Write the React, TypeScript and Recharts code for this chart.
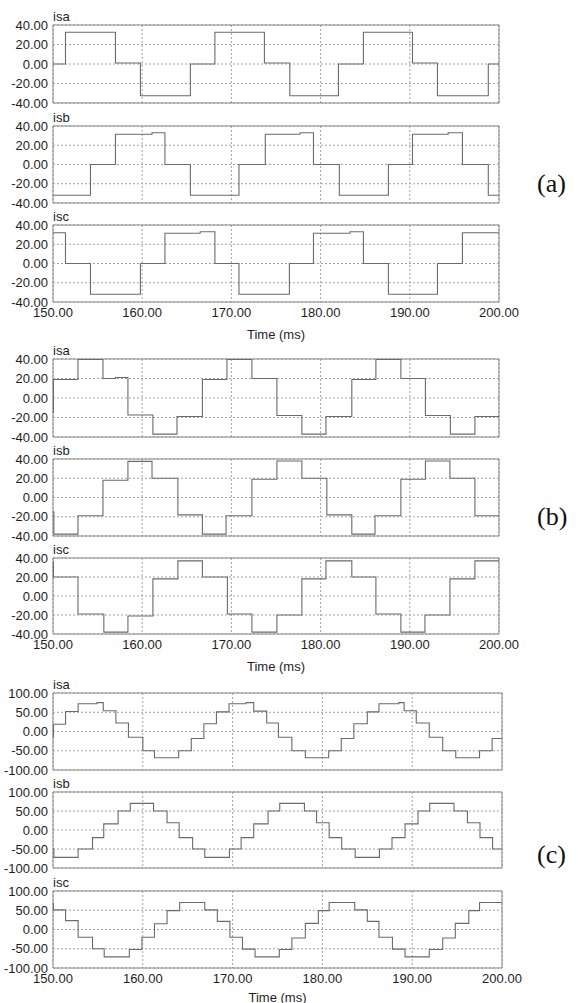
import React from 'react';
import {
  LineChart,
  Line,
  XAxis,
  YAxis,
  CartesianGrid,
  ReferenceArea,
} from 'recharts';

// time axis (ms)
const timeTicks = [150, 160, 170, 180, 190, 200];
const ampTicks40 = [-40, -20, 0, 20, 40];
const ampTicks100 = [-100, -50, 0, 50, 100];

// (a) phase currents, [time ms, current A] breakpoints
const aIsa = [
  [150, 0], [151.4, 32.5], [157.0, 1], [159.8, -32.5], [165.4, 0], [168.15, 32.5],
  [173.7, 1], [176.55, -32.5], [182.0, 0], [184.8, 32.5], [190.3, 1], [193.1, -32.5],
  [198.8, 0], [200, 0],
];
const aIsb = [
  [150, -32], [154.2, 0], [157.0, 31.5], [161.1, 33], [162.55, 0], [165.4, -32],
  [170.85, 0], [173.8, 31.5], [177.7, 33], [179.2, 0], [182.1, -32], [187.6, 0],
  [190.3, 31.5], [194.3, 33], [195.9, 0], [198.8, -32], [200, -32],
];
const aIsc = [
  [150, 32], [151.4, 0], [154.2, -32], [159.8, 0], [162.55, 31.5], [166.5, 33],
  [168.15, 0], [170.85, -32], [176.5, 0], [179.2, 31.5], [183.3, 33], [184.8, 0],
  [187.6, -32], [193.1, 0], [195.9, 32], [200, 32],
];

// (b)
const bIsa = [
  [150, -15], [150.05, 19], [152.8, 39.5], [155.6, 20], [157.0, 21], [158.4, -17.5],
  [161.2, -37], [163.9, -19], [166.75, 19], [169.5, 39.5], [172.3, 20], [175.1, -18],
  [177.9, -37], [180.6, -19], [183.5, 19], [186.2, 39.5], [189.0, 20], [191.75, -18],
  [194.55, -37], [197.3, -19], [200, -19],
];
const bIsb = [
  [150, -15], [150.1, -38], [152.8, -19], [155.6, 18], [158.4, 37.5], [161.1, 20],
  [164.0, -18], [166.75, -38], [169.4, -19], [172.3, 19], [175.1, 38], [177.9, 20],
  [180.7, -18], [183.5, -38], [186.1, -19], [189.0, 19], [191.75, 38], [194.5, 20],
  [197.3, -19], [200, -19],
];
const bIsc = [
  [150, 36], [150.05, 20], [152.8, -19], [155.7, -38], [158.4, -21], [161.2, 18],
  [164.0, 37], [166.75, 20], [169.55, -19], [172.3, -38], [175.1, -20], [177.9, 18],
  [180.6, 37], [183.5, 20], [186.2, -19], [189.0, -38], [191.7, -20], [194.5, 18],
  [197.3, 37], [200, 37],
];

// (c)
const cIsa = [
  [150, -14], [150.05, 19], [151.4, 52], [152.8, 72], [154.9, 75], [155.6, 54],
  [157.0, 22], [158.4, -15], [160.0, -50], [161.3, -68], [164.0, -50], [165.4, -18],
  [166.8, 20], [168.2, 51], [169.6, 72], [171.5, 75], [172.35, 53], [173.8, 22],
  [175.1, -15], [176.6, -50], [178.1, -68], [180.7, -50], [182.1, -18], [183.5, 20],
  [185.0, 51], [186.3, 72], [188.5, 75], [189.1, 54], [190.45, 22], [191.9, -15],
  [193.4, -50], [194.85, -68], [197.5, -50], [198.9, -18], [200, -18],
];
const cIsb = [
  [150, -50], [150.1, -72], [152.8, -50], [154.4, -20], [155.65, 16], [157.25, 50],
  [158.6, 70], [161.2, 50], [162.7, 19], [164.05, -20], [165.55, -50], [166.9, -72],
  [169.65, -50], [170.95, -20], [172.35, 16], [173.95, 50], [175.25, 70], [178.0, 50],
  [179.35, 19], [180.75, -20], [182.15, -50], [183.65, -72], [186.35, -50], [187.75, -20],
  [189.2, 16], [190.65, 50], [191.95, 70], [194.65, 50], [196.15, 19], [197.55, -20],
  [198.95, -50], [200, -50],
];
const cIsc = [
  [150, 68], [150.05, 51], [151.4, 23], [152.8, -20], [154.4, -50], [155.7, -71],
  [158.5, -52], [159.9, -20], [161.3, 15], [162.7, 49], [164.1, 70], [166.9, 51],
  [168.3, 21], [169.7, -20], [171.1, -51], [172.5, -71], [175.2, -52], [176.6, -22],
  [178.1, 16], [179.55, 49], [180.75, 70], [183.6, 51], [185.0, 21], [186.3, -20],
  [187.8, -51], [189.2, -71], [191.9, -52], [193.4, -22], [194.8, 16], [196.3, 49],
  [197.5, 70], [200, 70],
];

const toPoints = (pairs: number[][]) => pairs.map(([t, v]) => ({ t, v }));
const fmt = (v: number) => v.toFixed(2);

const TRACE = '#6b6b6b';
const FRAME = '#8a8a8a';
const GRID = '#a3a3a3';
const TEXT = '#1e1e1e';
const Y_W = 53;
const M_TOP = 10;

interface PanelProps {
  title: string;
  series: number[][];
  top: number;
  plotH: number;
  plotW: number;
  yTicks: number[];
  showTime?: boolean;
  timeLift?: number;
}

const Panel: React.FC<PanelProps> = ({ title, series, top, plotH, plotW, yTicks, showTime, timeLift = 0 }) => {
  const xH = showTime ? 37 : 0;
  const mBottom = showTime ? 6 : 8;
  const yMin = yTicks[0];
  const yMax = yTicks[yTicks.length - 1];
  return (
    <div style={{ position: 'absolute', left: 0, top: top - M_TOP }}>
      <div
        style={{
          position: 'absolute',
          left: Y_W,
          top: M_TOP - 15,
          fontSize: 13,
          lineHeight: '13px',
          color: TEXT,
        }}
      >
        {title}
      </div>
      <LineChart
        width={Y_W + plotW + 30}
        height={M_TOP + plotH + mBottom + xH}
        data={toPoints(series)}
        margin={{ top: M_TOP, right: 30, left: 0, bottom: mBottom }}
      >
        <CartesianGrid stroke={GRID} strokeDasharray="2 2" />
        <XAxis
          dataKey="t"
          type="number"
          domain={[150, 200]}
          ticks={timeTicks}
          hide={!showTime}
          height={xH}
          axisLine={false}
          tickLine={false}
          tickSize={4}
          tickMargin={2}
          tickFormatter={fmt}
          tick={{ fill: TEXT, fontSize: 13 }}
          interval={0}
          label={
            showTime
              ? { value: 'Time (ms)', position: 'insideBottom', offset: timeLift, fill: TEXT, fontSize: 13 }
              : undefined
          }
        />
        <YAxis
          type="number"
          domain={[yMin, yMax]}
          ticks={yTicks}
          width={Y_W}
          axisLine={false}
          tickLine={false}
          tickSize={3}
          tickMargin={2}
          tickFormatter={fmt}
          tick={{ fill: TEXT, fontSize: 13 }}
          interval={0}
        />
        <ReferenceArea x1={150} x2={200} y1={yMin} y2={yMax} fill="none" stroke={FRAME} strokeWidth={1} />
        <Line
          type="stepAfter"
          dataKey="v"
          stroke={TRACE}
          strokeWidth={1.1}
          dot={false}
          isAnimationActive={false}
        />
      </LineChart>
    </div>
  );
};

const caseLabel: React.CSSProperties = {
  position: 'absolute',
  left: 537,
  fontFamily: '"Liberation Serif", "Times New Roman", serif',
  fontSize: 26,
  lineHeight: '26px',
  color: '#111',
};

export default function App() {
  return (
    <div
      style={{
        position: 'absolute',
        left: 0,
        top: 0,
        width: 578,
        height: 1003,
        background: '#fff',
        overflow: 'hidden',
        fontFamily: '"Liberation Sans", Arial, sans-serif',
      }}
    >
      <Panel title="isa" series={aIsa} top={25} plotH={78} plotW={446} yTicks={ampTicks40} />
      <Panel title="isb" series={aIsb} top={126} plotH={77} plotW={446} yTicks={ampTicks40} />
      <Panel title="isc" series={aIsc} top={225} plotH={77} plotW={446} yTicks={ampTicks40} showTime />
      <div style={{ ...caseLabel, top: 171 }}>(a)</div>

      <Panel title="isa" series={bIsa} top={359} plotH={78} plotW={446} yTicks={ampTicks40} />
      <Panel title="isb" series={bIsb} top={459} plotH={77} plotW={446} yTicks={ampTicks40} />
      <Panel title="isc" series={bIsc} top={558} plotH={76} plotW={446} yTicks={ampTicks40} showTime />
      <div style={{ ...caseLabel, top: 504 }}>(b)</div>

      <Panel title="isa" series={cIsa} top={693} plotH={77} plotW={449} yTicks={ampTicks100} />
      <Panel title="isb" series={cIsb} top={792} plotH={76} plotW={449} yTicks={ampTicks100} />
      <Panel title="isc" series={cIsc} top={891} plotH={77} plotW={449} yTicks={ampTicks100} showTime timeLift={3} />
      <div style={{ ...caseLabel, top: 842 }}>(c)</div>
    </div>
  );
}
